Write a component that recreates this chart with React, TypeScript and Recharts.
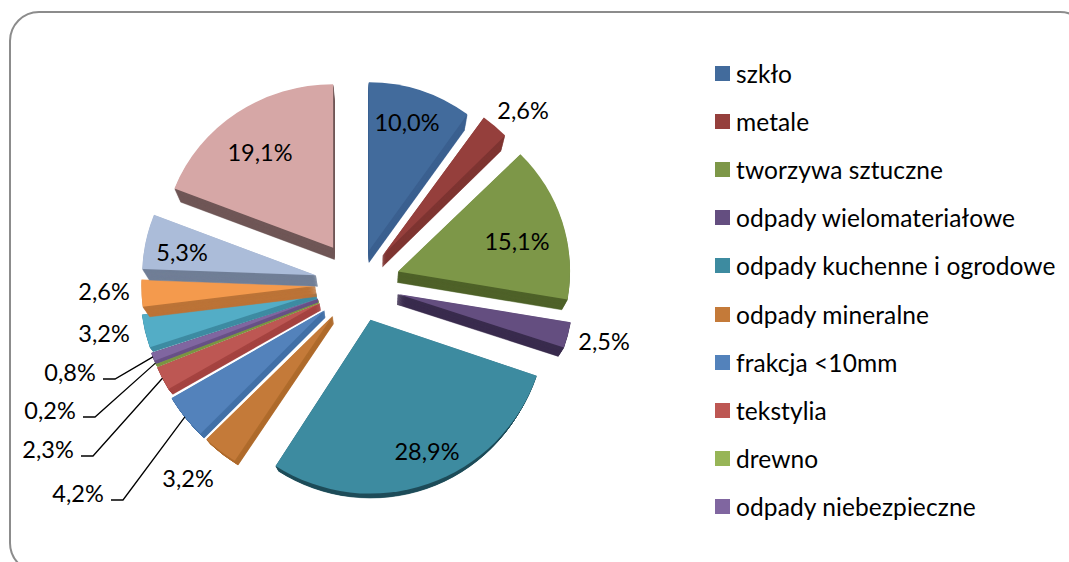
import { Legend, Pie, PieChart, Sector } from "recharts";

const legendNames = [
  "szkło",
  "metale",
  "tworzywa sztuczne",
  "odpady wielomateriałowe",
  "odpady kuchenne i ogrodowe",
  "odpady mineralne",
  "frakcja <10mm",
  "tekstylia",
  "drewno",
  "odpady niebezpieczne",
];
const shares = [10.0, 2.6, 15.1, 2.5, 28.9, 3.2, 4.2, 2.3, 0.2, 0.8, 3.2, 2.6, 5.3, 19.1];

const topColors = [
  "#426b9c", "#953f3c", "#7d9748", "#644e80", "#3d8ba0", "#c47a39", "#5382bb",
  "#bd5753", "#97b557", "#8066a0", "#53adc6", "#f49a4d", "#abbcd9", "#d6a7a6",
];
const sideColors = [
  "#3b6090", "#7f3532", "#4f6229", "#3a2c4e", "#1f4d5a", "#b06c2e", "#4472a8",
  "#a54441", "#7c9645", "#6a5288", "#3f8ca3", "#bc7438", "#717f97", "#705757",
];
const explosion = [35, 38, 42, 41, 38, 41, 43, 43, 43, 43, 43, 43, 43, 44];
// Excel's 3D view is not a true circle: each slice gets its own perspective stretch
const stretchX = [0.975, 1, 1, 1.02, 1.02, 1.05, 1.03, 1.02, 1.02, 1.02, 1.02, 1.01, 1.01, 0.99];
const stretchY = [0.98, 0.99, 0.97, 0.97, 1.01, 1.0, 1.0, 0.98, 0.98, 0.98, 0.97, 0.97, 0.97, 0.95];
const depthScale = [1, 1, 1, 1, 1, 0.8, 0.7, 0.7, 0.3, 0.3, 0.5, 1, 1, 1];
const labelSpots = [
  [407, 122], [523, 110], [517, 241], [604, 341], [427, 451], [188, 478], [78, 493],
  [48, 449], [50, 410], [70, 372], [104, 333], [104, 291], [182, 252], [260, 152],
];
// slices whose label sits away from the slice get a leader line
const leaderSlices = [6, 7, 8, 9];

const FONT = "Lato, Carlito, sans-serif";
const VANISH = { x: 375, y: 640 };
const DEPTH_STEPS = 14;
const DEPTH = 0.03;
const RAD = Math.PI / 180;

const data = shares.map((value, i) => ({ name: legendNames[i] ?? "", value }));

function offsetFor(index: number, midAngle: number) {
  const d = explosion[index];
  return { dx: d * Math.cos(midAngle * RAD), dy: -d * Math.sin(midAngle * RAD) };
}

function Slice(props: any) {
  const { cx, cy, outerRadius, startAngle, endAngle, midAngle, index } = props;
  const { dx, dy } = offsetFor(index, midAngle);
  const place = `translate(${cx + dx} ${cy + dy}) scale(${stretchX[index]} ${stretchY[index]}) translate(${-cx} ${-cy})`;
  const sector = { cx, cy, innerRadius: 0, outerRadius, startAngle, endAngle };
  const layers = [];
  for (let i = DEPTH_STEPS; i > 0; i--) {
    const s = 1 - (DEPTH * depthScale[index] * i) / DEPTH_STEPS;
    layers.push(
      <g key={i} transform={`translate(${VANISH.x} ${VANISH.y}) scale(${s}) translate(${-VANISH.x} ${-VANISH.y})`}>
        <g transform={place}>
          <Sector {...sector} fill={sideColors[index]} stroke={sideColors[index]} strokeWidth={0.5} />
        </g>
      </g>,
    );
  }
  return (
    <g>
      {layers}
      <g transform={place}>
        <Sector {...sector} fill={topColors[index]} />
      </g>
    </g>
  );
}

function SliceLabel(props: any) {
  const { cx, cy, outerRadius, midAngle, index, value } = props;
  const [x, y] = labelSpots[index];
  const { dx, dy } = offsetFor(index, midAngle);
  const hasLeader = leaderSlices.includes(index);
  const ex = cx + dx + outerRadius * stretchX[index] * Math.cos(midAngle * RAD);
  const ey = cy + dy - outerRadius * stretchY[index] * Math.sin(midAngle * RAD);
  return (
    <g>
      {hasLeader && (
        <polyline
          points={`${x + 33},${y + 7} ${x + 45},${y + 7} ${ex},${ey}`}
          fill="none"
          stroke="#000"
          strokeWidth={1.3}
        />
      )}
      <text x={x} y={y} textAnchor="middle" dominantBaseline="central" fontFamily={FONT} fontSize={23.5} fill="#000">
        {value.toFixed(1).replace(".", ",") + "%"}
      </text>
    </g>
  );
}

function LegendList() {
  return (
    <div style={{ fontFamily: FONT, fontSize: 24.5, letterSpacing: 0.1, color: "#000" }}>
      {legendNames.map((name, i) => (
        <div key={name} style={{ display: "flex", alignItems: "center", height: 48.2, whiteSpace: "nowrap" }}>
          <span style={{ width: 15, height: 15, background: topColors[i], marginRight: 6, flex: "none" }} />
          {name}
        </div>
      ))}
    </div>
  );
}

export default function App() {
  return (
    <div style={{ position: "absolute", left: 0, top: 0, width: 1069, height: 562, overflow: "hidden", background: "#fff" }}>
      <div
        style={{
          position: "absolute",
          left: 9,
          top: 11,
          width: 1077,
          height: 558,
          border: "2px solid #8c8c8c",
          borderRadius: 30,
        }}
      />
      <PieChart width={1069} height={562} margin={{ top: 0, right: 0, bottom: 0, left: 0 }} style={{ position: "absolute", left: 0, top: 0 }}>
        <Pie
          data={data}
          dataKey="value"
          nameKey="name"
          cx={358}
          cy={284}
          outerRadius={172}
          startAngle={90}
          endAngle={-270}
          stroke="none"
          shape={Slice}
          label={SliceLabel}
          labelLine={false}
          isAnimationActive={false}
        />
        <Legend
          content={LegendList}
          wrapperStyle={{ position: "absolute", left: 715, top: 49, width: 350, bottom: "auto", right: "auto" }}
        />
      </PieChart>
    </div>
  );
}
